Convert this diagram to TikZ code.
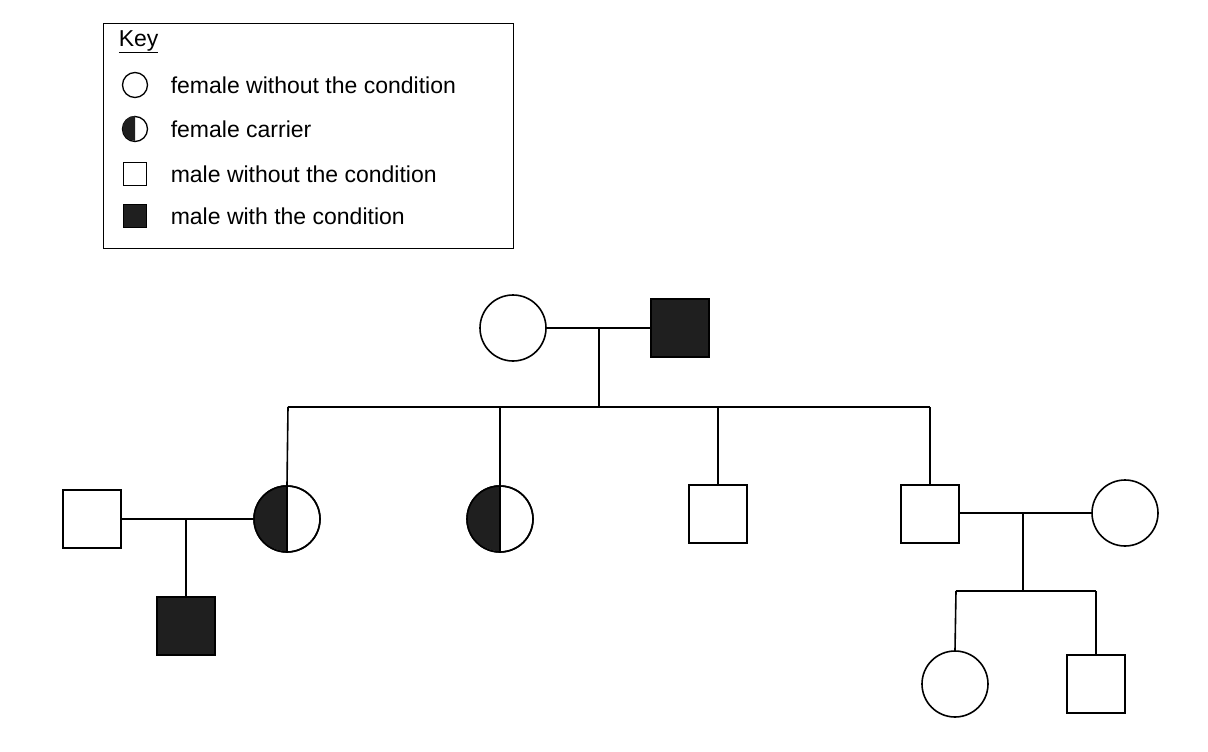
\documentclass[tikz,border=0pt]{standalone}
\usepackage{fontspec}
\setmainfont{Liberation Sans}
\begin{document}
\begin{tikzpicture}[x=1pt,y=-1pt,line width=1.6pt,
  fem/.style={circle,draw,minimum size=66pt,inner sep=0pt},
  mal/.style={rectangle,draw,minimum size=58pt,inner sep=0pt},
  aff/.style={mal,fill=black!88},
  kt/.style={anchor=west,font=\fontsize{23}{26}\selectfont,inner sep=0pt}]
\useasboundingbox (0,0) rectangle (1208,752);
% key
\node[draw,line width=1.3pt,minimum width=410pt,minimum height=225pt,anchor=north west] (key) at (103,23) {};
\node[kt] (kh) at (118,42) {\underline{Key}};
\node[circle,draw,line width=1.3pt,minimum size=25pt,inner sep=0pt] (k1) at (135,85) {};
\node[circle,draw,line width=1.3pt,minimum size=25pt,inner sep=0pt] (k2) at (135,129) {};
\fill[black!88] (k2.north) arc (90:270:12.5pt) -- cycle;
\node[draw,line width=1.3pt,minimum size=23pt,inner sep=0pt] (k3) at (135,174) {};
\node[draw,line width=1.3pt,fill=black!88,minimum size=23pt,inner sep=0pt] (k4) at (135,216) {};
\node[kt] at (170,85) {female without the condition};
\node[kt] at (170,129) {female carrier};
\node[kt] at (170,174) {male without the condition};
\node[kt] at (170,216) {male with the condition};
% generation I
\node[fem] (gm) at (513,328) {};
\node[aff] (gf) at (680,328) {};
\draw (gm) -- (gf);
\coordinate (m1) at (599,328);
\coordinate (s1) at (599,407);
\draw (m1) -- (s1);
\coordinate (bl) at (288,407);
\coordinate (br) at (930,407);
\draw (bl) -- (br);
% generation II
\node[fem] (d1) at (287,519) {};
\node[fem] (d2) at (500,519) {};
\foreach \n in {d1,d2}{\fill[black!88] (\n.north) arc (90:270:33pt) -- cycle; \draw (\n) circle (33pt); \draw (\n.north) -- (\n.south);}
\node[mal] (s2) at (718,514) {};
\node[mal] (s3) at (930,514) {};
\draw (bl) -- (d1.north);
\draw (500,407) -- (d2.north);
\draw (718,407) -- (s2.north);
\draw (br) -- (s3.north);
% left family
\node[mal] (h1) at (92,519) {};
\draw (h1) -- (d1.west);
\node[aff] (c1) at (186,626) {};
\draw (186,519) -- (c1.north);
% right family
\node[fem] (w1) at (1125,513) {};
\draw (s3.east |- 0,513) -- (w1.west);
\draw (1023,513) -- (1023,591);
\draw (956,591) -- (1096,591);
\node[fem] (c2) at (955,684) {};
\node[mal] (c3) at (1096,684) {};
\draw (956,591) -- (c2.north);
\draw (1096,591) -- (c3.north);
\end{tikzpicture}
\end{document}
